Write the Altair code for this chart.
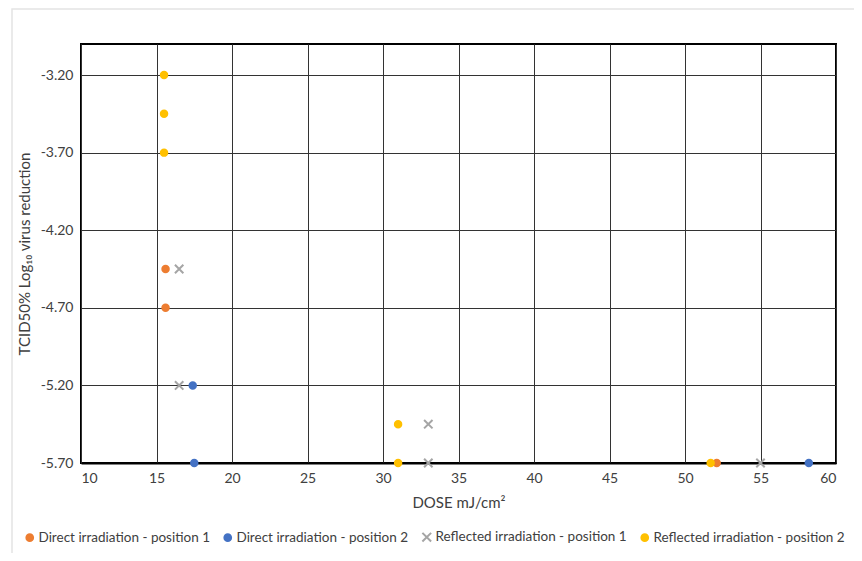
import altair as alt
import pandas as pd

series_names = [
    "Direct irradiation - position 1",
    "Direct irradiation - position 2",
    "Reflected irradiation - position 1",
    "Reflected irradiation - position 2",
]
colors = ["#ED7D31", "#4472C4", "#A5A5A5", "#FFC000"]
shapes = ["circle", "circle", "M-1.3,-1.3L1.3,1.3M-1.3,1.3L1.3,-1.3", "circle"]

d1_x = [15.6, 15.6, 52.1]
d1_y = [-4.45, -4.70, -5.70]
d2_x = [17.4, 17.5, 58.2]
d2_y = [-5.20, -5.70, -5.70]
r1_x = [16.5, 16.5, 33.0, 33.0, 55.0]
r1_y = [-4.45, -5.20, -5.45, -5.70, -5.70]
r2_x = [15.5, 15.5, 15.5, 31.0, 31.0, 51.7]
r2_y = [-3.20, -3.45, -3.70, -5.45, -5.70, -5.70]

x_ticks = [10, 15, 20, 25, 30, 35, 40, 45, 50, 55, 60]
y_ticks = [-5.7, -5.2, -4.7, -4.2, -3.7, -3.2]

rows = []
for name, xs, ys in zip(series_names, [d1_x, d2_x, r1_x, r2_x], [d1_y, d2_y, r1_y, r2_y]):
    for xv, yv in zip(xs, ys):
        rows.append({"series": name, "dose": xv, "red": yv})
df = pd.DataFrame(rows)

FONT = "Lato"
scale_c = alt.Scale(domain=series_names, range=colors)
legend = alt.Legend(
    title=None, orient="none", direction="horizontal", legendX=-58, legendY=486,
    labelFont=FONT, labelFontSize=13.5, labelColor="#404040",
    symbolSize=45, symbolStrokeWidth=2, columnPadding=10, labelOffset=2, labelLimit=400,
)

points = alt.Chart(df).mark_point(filled=True, size=42, strokeWidth=2, opacity=1).encode(
    x=alt.X("dose:Q", scale=alt.Scale(domain=[10, 60], nice=False, zero=False),
            axis=alt.Axis(values=x_ticks, title="DOSE mJ/cm²", grid=True, ticks=False,
                          domain=True, domainColor="#000000", domainWidth=2,
                          gridColor="#333333", gridWidth=1, labelPadding=8, titlePadding=10)),
    y=alt.Y("red:Q", scale=alt.Scale(domain=[-5.7, -3.0], nice=False, zero=False),
            axis=alt.Axis(values=y_ticks, labelExpr="'-' + format(abs(datum.value), '.2f')",
                          title="TCID50% Log₁₀ virus reduction",
                          grid=True, ticks=False, domain=False, gridColor="#333333",
                          gridWidth=1, labelPadding=8, titlePadding=8)),
    color=alt.Color("series:N", scale=scale_c, legend=legend),
    stroke=alt.Stroke("series:N", scale=scale_c, legend=legend),
    shape=alt.Shape("series:N", scale=alt.Scale(domain=series_names, range=shapes), legend=legend),
)

frame = alt.Chart(pd.DataFrame({"k": [0]})).mark_rect(
    fill=None, stroke="#E4E4E4", strokeWidth=1.5
).encode(
    x=alt.value(-69), x2=alt.value(780), y=alt.value(-35), y2=alt.value(511)
)

chart = alt.layer(frame, points).properties(
    width=755, height=419,
    autosize=alt.AutoSizeParams(type="none"),
    padding={"left": 73, "top": 36, "right": 18, "bottom": 90},
).configure_view(
    stroke="#000000", strokeWidth=2
).configure_axis(
    labelFont=FONT, labelFontSize=14, labelColor="#404040",
    titleFont=FONT, titleFontSize=15, titleColor="#404040",
    titleFontWeight="normal",
)

chart.save("out.html", embed_options={"renderer": "svg", "actions": False})
